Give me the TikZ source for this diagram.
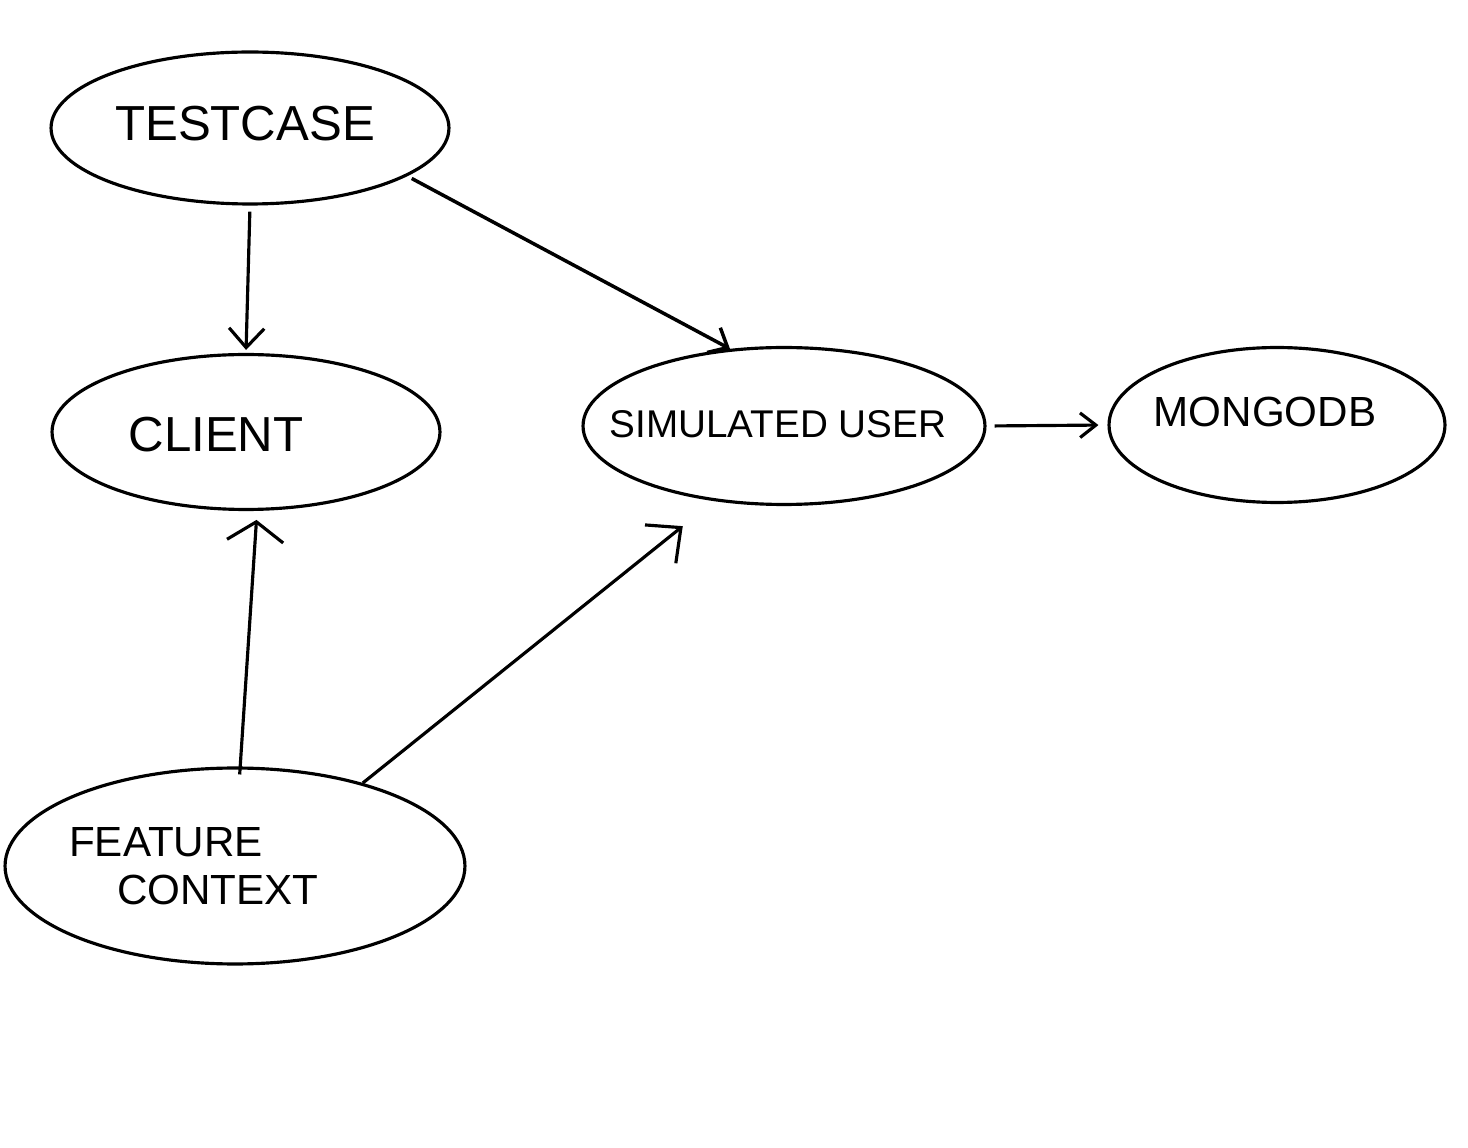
\documentclass[tikz,border=0pt]{standalone}
\usepackage{fontspec}
\setmainfont{Liberation Sans}
\usetikzlibrary{shapes.geometric,arrows.meta}
\begin{document}
\begin{tikzpicture}[x=0.02cm,y=-0.02cm, line width=1.8pt,
  ell/.style={draw, ellipse, inner sep=0pt, line width=1.8pt},
  lbl/.style={inner sep=0pt, font=\fontsize{28}{32}\selectfont},
  slbl/.style={inner sep=0pt, font=\fontsize{24}{28}\selectfont},
  arr/.style={-{Straight Barb[length=11pt,width=20pt,line width=1.8pt]}, line width=1.8pt}]
\path[use as bounding box, fill=white] (0,0) rectangle (1468,1148);
% ellipses
\node[ell, minimum width=7.96cm, minimum height=3.04cm] (tc) at (250,128) {};
\node[ell, minimum width=7.76cm, minimum height=3.1cm] (cl) at (246,432) {};
\node[ell, minimum width=8.04cm, minimum height=3.14cm] (su) at (784,426) {};
\node[ell, minimum width=6.72cm, minimum height=3.1cm] (mg) at (1277,425) {};
\node[ell, minimum width=9.2cm, minimum height=3.92cm] (fc) at (235,866) {};
% labels
\node[lbl] (tct) at (245,124) {TESTCASE};
\node[lbl] (clt) at (216,435) {CLIENT};
\node[slbl, font=\fontsize{22}{26}\selectfont] (sut) at (778,424) {SIMULATED USER};
\node[slbl] (mgt) at (1265,412) {MONGODB};
\node[slbl] (fct1) at (166,842) {FEATURE};
\node[slbl] (fct2) at (218,890) {CONTEXT};
% connectors
\draw[arr, shorten <=0.12cm, shorten >=0.06cm] (tc.south) -- (cl.north);
\draw[arr, -{Straight Barb[length=9pt,width=16pt,line width=2pt]}, line width=2pt, shorten <=0.1cm] (tc.-17) -- (su.125);
\draw[arr, -{Straight Barb[length=9pt,width=14pt,line width=1.8pt]}, shorten <=0.16cm, shorten >=0.18cm] (su.east) -- (mg.west);
\draw[arr, -{Straight Barb[length=11pt,width=32pt,line width=1.8pt]}, shorten <=-0.16cm, shorten >=0.18cm] (fc.87) -- (cl.-82);
\draw[arr, -{Straight Barb[length=15pt,width=28pt,line width=1.8pt]}, shorten >=0.8cm] (fc.33.5) -- (su.227);
\end{tikzpicture}
\end{document}
